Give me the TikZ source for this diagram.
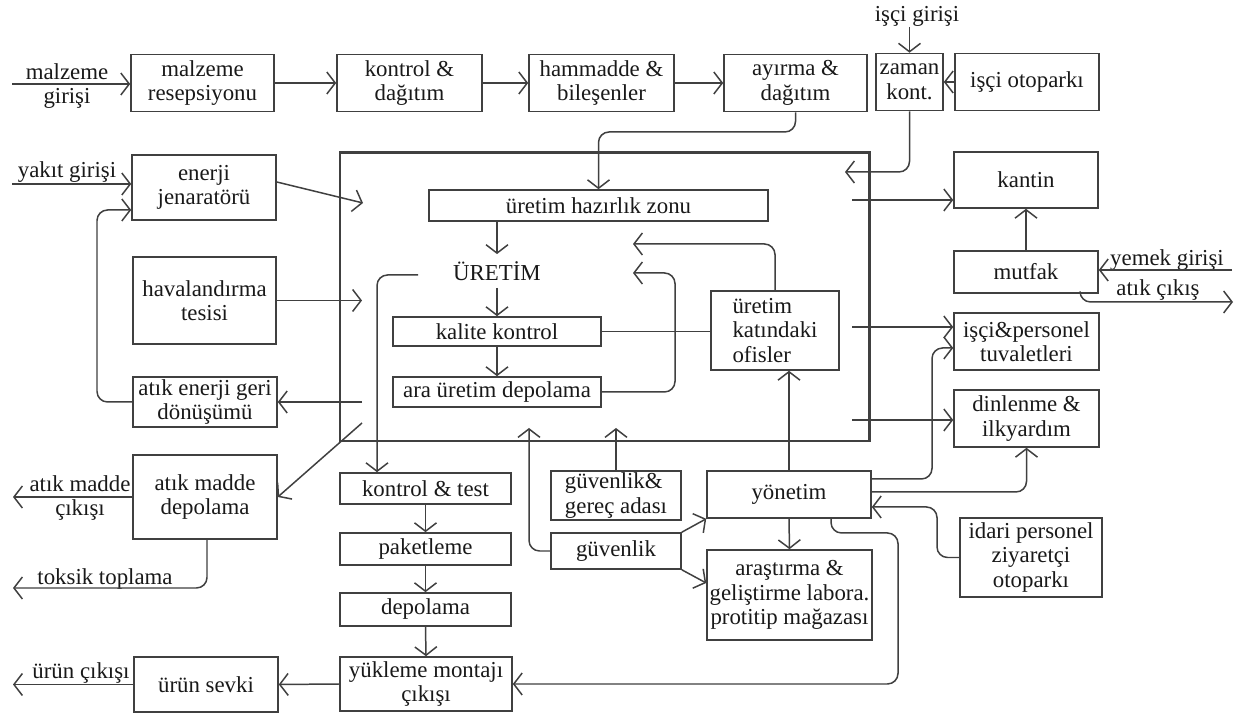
\documentclass[tikz,border=0pt]{standalone}
\usepackage{fontspec}
\setmainfont{Liberation Serif}
\usetikzlibrary{arrows.meta}
\definecolor{ink}{gray}{0.25}

\begin{document}
\begin{tikzpicture}[
    x=0.02cm, y=-0.02cm,
    >={Straight Barb[length=4.8pt,width=12.5pt]},
    every node/.style={font=\fontsize{13}{14}\selectfont,text=black!90},
    box/.style={rectangle,draw=ink,line width=0.9pt,align=center,inner sep=1pt},
    wh/.style 2 args={minimum width=#1*0.02cm,minimum height=#2*0.02cm},
    link/.style={draw=ink,line width=0.85pt,->},
    wire/.style={draw=ink,line width=0.85pt},
    hall/.style={rectangle,draw=ink,line width=1.7pt,inner sep=0pt},
    tag/.style={align=center,inner sep=0pt},
]
\fill[white] (0,0) rectangle (1248,715);
\useasboundingbox (0,0) rectangle (1248,715);

%%%
% Malzeme girisi (top row)
\node[box,wh={143}{57}] (malzRes) at (202.5,83) {malzeme\\resepsiyonu};
\node[box,wh={145}{57}] (kontDag) at (409.5,83) {kontrol \&\\dağıtım};
\node[box,wh={145}{57}] (hamBil) at (601.5,83) {hammadde \&\\bileşenler};
\node[box,wh={143}{57}] (ayrDag) at (795.5,83) {ayırma \&\\dağıtım};
\node[box,wh={67}{57}] (zaman) at (909.5,82) {zaman\\kont.};
\node[box,wh={144}{57}] (isciOto) at (1027,82) {işçi otoparkı};

\coordinate (malzIn) at (12,84);
\node[tag] (malzTag) at (67,86) {malzeme\\girişi};
\draw[link] (malzIn) -- (malzIn -| malzRes.west);
\draw[link] (malzRes.east) -- (kontDag.west);
\draw[link] (kontDag.east) -- (hamBil.west);
\draw[link] (hamBil.east) -- (ayrDag.west);
\draw[link] (isciOto.west) -- (zaman.east);
\coordinate (isciIn) at (909.5,27);
\node[tag,anchor=base] (isciTag) at (917,22) {işçi girişi};
\draw[link] (isciIn) -- (zaman.north);

%%%
% Uretim alani
\node[hall,wh={529}{288}] (alan) at (604.5,297) {};
\node[box,wh={339}{31}] (hazirlik) at (598.5,205.5) {üretim hazırlık zonu};
\node[tag,inner sep=4pt] (uretim) at (497,271) {ÜRETİM};
\node[box,wh={208}{29}] (kalite) at (497,331.5) {kalite kontrol};
\node[box,wh={208}{30}] (ara) at (497,392) {ara üretim depolama};
\node[box,wh={128}{79},align=left] (ofisler) at (775,330.5) {üretim\\katındaki\\ofisler};

\draw[link,rounded corners=6pt] (ayrDag.south) |- (hazirlik.north |- 0,132) -- (hazirlik.north);
\coordinate (zamanIn) at (845,172);
\draw[link,rounded corners=6pt] (zaman.south) |- (zamanIn);
\draw[link] (hazirlik.south -| uretim.north) -- (uretim.north);
\draw[link] (uretim.south) -- (kalite.north);
\draw[link] (kalite.south) -- (ara.north);
\draw[wire] (kalite.east) -- (kalite.east -| ofisler.west);
\coordinate (araIn) at (633,273);
\draw[link,rounded corners=6pt] (ara.east) -- (675,392) |- (araIn);
\coordinate (ofisIn) at (633,244);
\draw[link,rounded corners=6pt] (ofisler.north) |- (ofisIn);

%%%
% Enerji ve atik (left column)
\node[box,wh={144}{65}] (enerji) at (204,187.5) {enerji\\jenaratörü};
\node[box,wh={143}{87}] (havaland) at (204.5,300.5) {havalandırma\\tesisi};
\node[box,wh={144}{50}] (atikEn) at (205,402) {atık enerji geri\\dönüşümü};
\node[box,wh={144}{84}] (atikMad) at (205,497) {atık madde\\depolama};
\node[box,wh={144}{55}] (urunSevki) at (206,684.5) {ürün sevki};

\coordinate (yakitIn) at (12,184);
\node[tag,anchor=base] (yakitTag) at (67,178) {yakıt girişi};
\draw[link] (yakitIn) -- (yakitIn -| enerji.west);
\coordinate (enerjiIn) at (363,203);
\draw[link] (enerji.east |- 0,182) -- (enerjiIn);
\coordinate (havaIn) at (362,300.5);
\draw[link] (havaland.east) -- (havaIn);
\coordinate (atikEnOut) at (362,402);
\draw[link] (atikEnOut) -- (atikEn.east);
\draw[link,rounded corners=6pt] (atikEn.west) -- (97,402) |- (enerji.west |- 0,210);
\coordinate (atikMadOut) at (362,423);
\draw[link] (atikMadOut) -- (atikMad.east);
\coordinate (atikMadEx) at (13,497);
\node[tag] (atikMadTag) at (80,498) {atık madde\\çıkışı};
\draw[link] (atikMad.west) -- (atikMadEx);
\coordinate (toksikEx) at (13,588);
\node[tag,anchor=base] (toksikTag) at (105,585) {toksik toplama};
\draw[link,rounded corners=6pt] (atikMad.south -| 207,0) |- (toksikEx);

%%%
% Urun cikisi
\node[box,wh={171}{31}] (kontTest) at (425.5,488.5) {kontrol \& test};
\node[box,wh={171}{32}] (paket) at (425.5,549) {paketleme};
\node[box,wh={171}{33}] (depo) at (425.5,609.5) {depolama};
\node[box,wh={172}{54}] (yukleme) at (426,684) {yükleme montajı\\çıkışı};

\coordinate (uretimOut) at (418,275);
\draw[link,rounded corners=6pt] (uretimOut) -| (kontTest.north -| 377,0);
\draw[link] (kontTest.south) -- (paket.north);
\draw[link] (paket.south) -- (depo.north);
\draw[link] (depo.south) -- (yukleme.north);
\draw[link] (yukleme.west) -- (urunSevki.east);
\coordinate (urunEx) at (13,684.5);
\node[tag,anchor=base] (urunTag) at (81,679) {ürün çıkışı};
\draw[link] (urunSevki.west) -- (urunEx);

%%%
% Guvenlik ve yonetim
\node[box,wh={130}{47},align=left] (guvGerec) at (616,495.5) {güvenlik\&\\gereç adası};
\node[box,wh={130}{36}] (guvenlik) at (616,551) {güvenlik};
\node[box,wh={164}{47}] (yonetim) at (789,494.5) {yönetim};
\node[box,wh={165}{90}] (arastirma) at (789.5,595) {araştırma \&\\geliştirme labora.\\protitip mağazası};
\node[box,wh={142}{79}] (idari) at (1031,557.5) {idari personel\\ziyaretçi\\otoparkı};

\coordinate (ggIn) at (616,428);
\draw[link] (guvGerec.north) -- (ggIn);
\coordinate (guvIn) at (529,428);
\draw[link,rounded corners=6pt] (guvenlik.west) -| (guvIn);
\draw[link] (guvenlik.north east) -- (yonetim.south west);
\draw[link] (guvenlik.south east) -- (arastirma.west |- 0,583);
\draw[link] (yonetim.north) -- (yonetim.north |- ofisler.south);
\draw[link] (yonetim.south) -- (arastirma.north);
\draw[link,rounded corners=6pt] (yonetim.south -| 831,0) -- (831,533) -| (898,684) -- (yukleme.east);

%%%
% Personel tesisleri (right column)
\node[box,wh={144}{56}] (kantin) at (1026,180) {kantin};
\node[box,wh={144}{42}] (mutfak) at (1026,272) {mutfak};
\node[box,wh={145}{57}] (tuvalet) at (1026.5,341.5) {işçi\&personel\\tuvaletleri};
\node[box,wh={145}{57}] (dinlenme) at (1026.5,418.5) {dinlenme \&\\ilkyardım};

\coordinate (kantinIn) at (852,200);
\draw[link] (kantinIn) -- (kantinIn -| kantin.west);
\coordinate (tuvaletIn) at (852,327);
\draw[link] (tuvaletIn) -- (tuvaletIn -| tuvalet.west);
\coordinate (dinlenmeIn) at (852,420);
\draw[link] (dinlenmeIn) -- (dinlenmeIn -| dinlenme.west);
\draw[link] (mutfak.north) -- (kantin.south);
\coordinate (yemekIn) at (1232,270);
\node[tag,anchor=base] (yemekTag) at (1167,266) {yemek girişi};
\draw[link] (yemekIn) -- (yemekIn -| mutfak.east);
\coordinate (atikEx) at (1233,302);
\node[tag,anchor=base] (atikTag) at (1158,296) {atık çıkış};
\draw[link,rounded corners=6pt] (mutfak.south -| 1080,0) |- (atikEx);

\draw[link,rounded corners=6pt] (yonetim.east |- 0,479) -| (932,348) -- (tuvalet.west |- 0,348);
\draw[link,rounded corners=6pt] (yonetim.east |- 0,492) -| (dinlenme.south);
\draw[link,rounded corners=6pt] (idari.west) -| (937,507) -- (yonetim.east |- 0,507);
\end{tikzpicture}
\end{document}
